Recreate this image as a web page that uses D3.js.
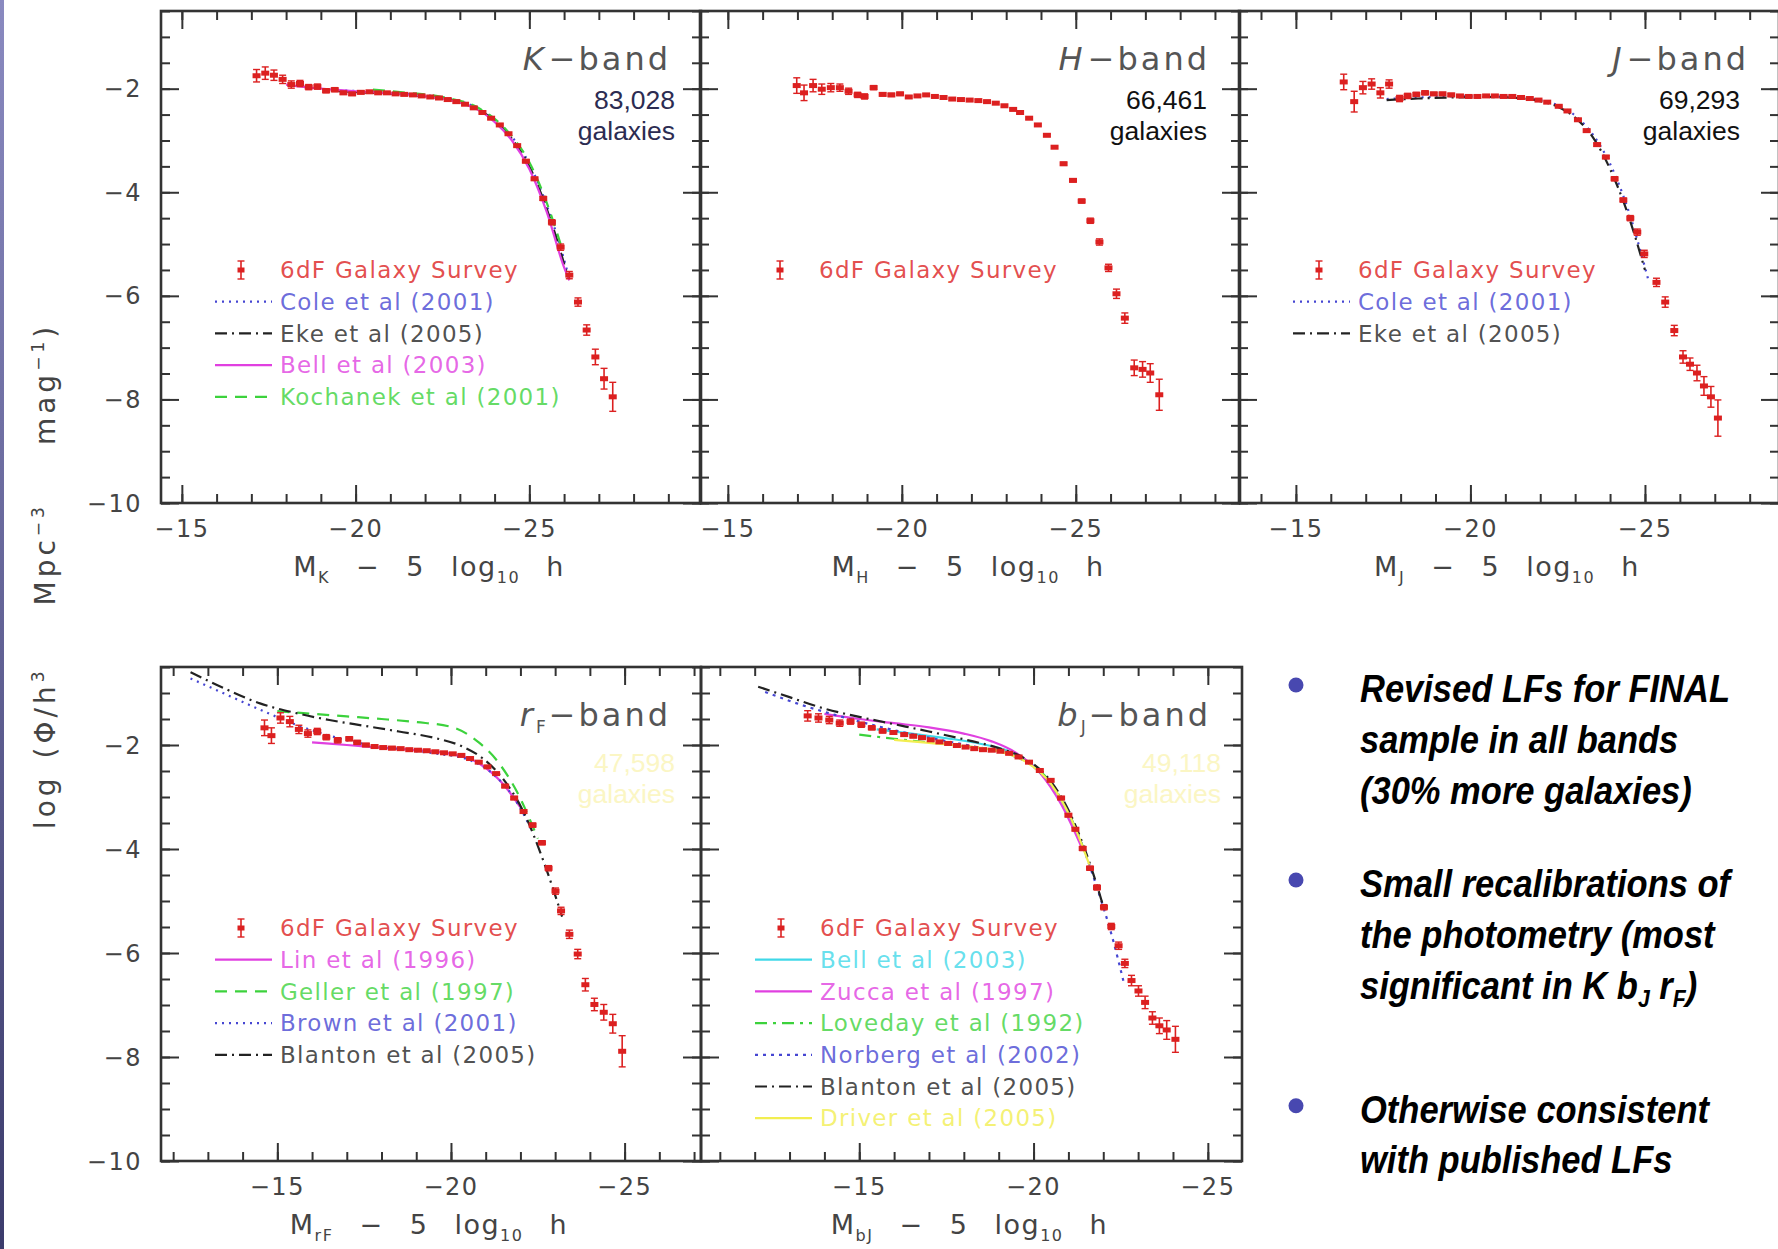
<!DOCTYPE html>
<html>
<head>
<meta charset="utf-8">
<script src="https://cdn.jsdelivr.net/npm/d3@7"></script>
<style>
  body { margin: 0; background: #fff; }
  svg { display: block; }
</style>
</head>
<body>
<svg id="chart" width="1778" height="1249"></svg>
<script>
// 6dF points: [M - 5log h, log phi, error]
var kband6df = [
  [-17.15,-1.75,0.12],[-17.40,-1.70,0.12],[-17.65,-1.74,0.10],[-17.90,-1.82,0.08],[-18.15,-1.92,0.07],
  [-18.40,-1.90,0.06],[-18.65,-1.97,0.05],[-18.90,-1.96,0.05],[-19.15,-2.04,0.04],[-19.40,-2.02,0.04],
  [-19.65,-2.08,0.03],[-19.90,-2.10,0.03],[-20.15,-2.07,0.03],[-20.40,-2.06,0.02],[-20.65,-2.08,0.02],
  [-20.90,-2.08,0.02],[-21.15,-2.10,0.02],[-21.40,-2.11,0.02],[-21.65,-2.12,0.02],[-21.90,-2.14,0.02],
  [-22.15,-2.16,0.02],[-22.40,-2.18,0.02],[-22.65,-2.21,0.02],[-22.90,-2.25,0.02],[-23.15,-2.30,0.02],
  [-23.40,-2.37,0.02],[-23.65,-2.46,0.02],[-23.90,-2.57,0.02],[-24.15,-2.70,0.02],[-24.40,-2.87,0.02],
  [-24.65,-3.10,0.02],[-24.90,-3.40,0.03],[-25.15,-3.74,0.03],[-25.40,-4.12,0.04],[-25.65,-4.58,0.05],
  [-25.90,-5.06,0.06],[-26.15,-5.60,0.07],[-26.40,-6.12,0.08],[-26.65,-6.66,0.10],[-26.90,-7.18,0.15],
  [-27.15,-7.60,0.20],[-27.40,-7.95,0.28]
];
var hband6df = [
  [-16.98,-1.94,0.15],[-17.19,-2.08,0.15],[-17.45,-1.94,0.12],[-17.70,-2.01,0.10],[-17.96,-1.98,0.08],
  [-18.22,-1.98,0.07],[-18.47,-2.05,0.06],[-18.73,-2.12,0.05],[-18.93,-2.15,0.05],[-19.19,-1.98,0.04],
  [-19.45,-2.11,0.03],[-19.70,-2.12,0.03],[-19.95,-2.10,0.03],[-20.20,-2.16,0.02],[-20.45,-2.14,0.02],
  [-20.70,-2.12,0.02],[-20.95,-2.15,0.02],[-21.20,-2.17,0.02],[-21.45,-2.20,0.02],[-21.70,-2.21,0.02],
  [-21.95,-2.22,0.02],[-22.20,-2.23,0.02],[-22.45,-2.25,0.02],[-22.70,-2.28,0.02],[-22.95,-2.33,0.02],
  [-23.20,-2.40,0.02],[-23.40,-2.46,0.02],[-23.66,-2.57,0.02],[-23.91,-2.70,0.02],[-24.17,-2.90,0.02],
  [-24.39,-3.13,0.02],[-24.65,-3.45,0.03],[-24.92,-3.77,0.03],[-25.17,-4.17,0.04],[-25.42,-4.55,0.05],
  [-25.68,-4.96,0.06],[-25.94,-5.46,0.07],[-26.17,-5.96,0.09],[-26.41,-6.43,0.10],[-26.68,-7.39,0.15],
  [-26.92,-7.42,0.15],[-27.14,-7.49,0.18],[-27.40,-7.91,0.30]
];
var jband6df = [
  [-16.37,-1.87,0.15],[-16.67,-2.25,0.20],[-16.92,-1.98,0.12],[-17.17,-1.91,0.10],[-17.42,-2.08,0.10],
  [-17.67,-1.91,0.08],[-17.97,-2.19,0.06],[-18.20,-2.14,0.05],[-18.45,-2.11,0.04],[-18.70,-2.08,0.04],
  [-18.95,-2.10,0.03],[-19.20,-2.10,0.03],[-19.45,-2.12,0.03],[-19.70,-2.14,0.02],[-19.95,-2.15,0.02],
  [-20.20,-2.15,0.02],[-20.45,-2.14,0.02],[-20.70,-2.14,0.02],[-20.95,-2.15,0.02],[-21.20,-2.15,0.02],
  [-21.45,-2.17,0.02],[-21.70,-2.19,0.02],[-21.95,-2.22,0.02],[-22.20,-2.26,0.02],[-22.53,-2.34,0.02],
  [-22.78,-2.43,0.02],[-23.08,-2.60,0.02],[-23.33,-2.81,0.02],[-23.63,-3.08,0.03],[-23.88,-3.32,0.03],
  [-24.13,-3.74,0.04],[-24.38,-4.15,0.04],[-24.58,-4.50,0.05],[-24.78,-4.77,0.06],[-24.98,-5.19,0.07],
  [-25.33,-5.74,0.08],[-25.58,-6.12,0.10],[-25.84,-6.67,0.10],[-26.09,-7.18,0.12],[-26.29,-7.32,0.12],
  [-26.49,-7.49,0.15],[-26.69,-7.74,0.18],[-26.89,-7.95,0.20],[-27.09,-8.36,0.35]
];
var rband6df = [
  [-14.63,-1.67,0.15],[-14.83,-1.82,0.15],[-15.09,-1.48,0.10],[-15.36,-1.55,0.10],[-15.62,-1.70,0.08],
  [-15.88,-1.78,0.07],[-16.15,-1.74,0.06],[-16.41,-1.85,0.05],[-16.74,-1.91,0.05],[-17.07,-1.88,0.04],
  [-17.30,-1.95,0.04],[-17.55,-2.00,0.03],[-17.80,-2.03,0.03],[-18.05,-2.05,0.03],[-18.30,-2.06,0.03],
  [-18.55,-2.07,0.02],[-18.80,-2.09,0.02],[-19.05,-2.10,0.02],[-19.30,-2.11,0.02],[-19.55,-2.13,0.02],
  [-19.80,-2.15,0.02],[-20.05,-2.17,0.02],[-20.30,-2.20,0.02],[-20.55,-2.26,0.02],[-20.80,-2.33,0.02],
  [-21.05,-2.42,0.02],[-21.30,-2.55,0.02],[-21.56,-2.79,0.03],[-21.82,-3.02,0.03],[-22.09,-3.28,0.03],
  [-22.35,-3.54,0.04],[-22.62,-3.88,0.04],[-22.81,-4.37,0.05],[-23.01,-4.81,0.06],[-23.17,-5.19,0.07],
  [-23.41,-5.64,0.08],[-23.65,-6.02,0.09],[-23.87,-6.61,0.12],[-24.13,-6.99,0.12],[-24.40,-7.14,0.15],
  [-24.66,-7.36,0.18],[-24.93,-7.89,0.30]
];
var bband6df = [
  [-13.52,-1.44,0.10],[-13.83,-1.48,0.08],[-14.14,-1.52,0.07],[-14.44,-1.58,0.06],[-14.75,-1.55,0.05],
  [-15.06,-1.61,0.05],[-15.36,-1.67,0.04],[-15.67,-1.73,0.04],[-15.98,-1.76,0.03],[-16.29,-1.80,0.03],
  [-16.55,-1.83,0.03],[-16.80,-1.86,0.03],[-17.05,-1.90,0.02],[-17.30,-1.94,0.02],[-17.55,-1.97,0.02],
  [-17.80,-2.01,0.02],[-18.05,-2.04,0.02],[-18.30,-2.07,0.02],[-18.55,-2.09,0.02],[-18.80,-2.10,0.02],
  [-19.05,-2.12,0.02],[-19.30,-2.16,0.02],[-19.57,-2.23,0.02],[-19.87,-2.33,0.02],[-20.18,-2.49,0.02],
  [-20.49,-2.68,0.02],[-20.79,-3.02,0.03],[-21.00,-3.35,0.03],[-21.20,-3.62,0.03],[-21.41,-3.99,0.04],
  [-21.62,-4.37,0.04],[-21.82,-4.74,0.05],[-22.02,-5.12,0.05],[-22.23,-5.49,0.06],[-22.44,-5.86,0.07],
  [-22.62,-6.20,0.08],[-22.81,-6.53,0.10],[-23.01,-6.73,0.10],[-23.20,-6.95,0.12],[-23.41,-7.25,0.12],
  [-23.61,-7.40,0.15],[-23.82,-7.48,0.18],[-24.07,-7.66,0.25]
];

// published LFs: [M - 5log h, log phi]
var kbandCole = [[-19.5,-2.03],[-20.5,-2.06],[-21.5,-2.10],[-22.5,-2.17],[-23.0,-2.24],[-23.5,-2.37],[-24.0,-2.60],[-24.5,-2.93],[-25.0,-3.45],[-25.5,-4.25],[-26.0,-5.30],[-26.1,-5.55]];
var kbandEke = [[-19.5,-2.05],[-20.5,-2.08],[-21.5,-2.12],[-22.5,-2.19],[-23.0,-2.26],[-23.5,-2.39],[-24.0,-2.62],[-24.5,-2.97],[-25.0,-3.50],[-25.5,-4.32],[-26.0,-5.38],[-26.1,-5.62]];
var kbandBell = [[-18.0,-1.92],[-19.0,-2.00],[-20.0,-2.05],[-21.0,-2.09],[-22.0,-2.15],[-23.0,-2.27],[-23.5,-2.40],[-24.0,-2.64],[-24.5,-3.00],[-25.0,-3.55],[-25.5,-4.38],[-26.0,-5.45],[-26.15,-5.70]];
var kbandKochanek = [[-20.5,-2.02],[-21.5,-2.08],[-22.5,-2.16],[-23.5,-2.36],[-24.0,-2.58],[-24.5,-2.92],[-25.0,-3.42],[-25.5,-4.20],[-25.9,-5.00]];

var jbandCole = [[-17.6,-2.20],[-18.5,-2.17],[-19.5,-2.15],[-20.5,-2.15],[-21.5,-2.18],[-22.0,-2.22],[-22.5,-2.32],[-23.0,-2.52],[-23.5,-2.88],[-24.0,-3.45],[-24.5,-4.30],[-25.0,-5.45],[-25.1,-5.70]];
var jbandEke = [[-17.6,-2.22],[-18.5,-2.19],[-19.5,-2.17],[-20.5,-2.16],[-21.5,-2.19],[-22.0,-2.24],[-22.5,-2.35],[-23.0,-2.56],[-23.5,-2.93],[-24.0,-3.55],[-24.5,-4.40],[-25.0,-5.50]];

var rbandLin = [[-16.0,-1.95],[-17.0,-2.00],[-18.0,-2.05],[-19.0,-2.10],[-20.0,-2.17],[-20.8,-2.35],[-21.5,-2.75],[-22.0,-3.20]];
var rbandGeller = [[-15.0,-1.35],[-16.0,-1.40],[-17.0,-1.45],[-18.0,-1.50],[-19.0,-1.56],[-20.0,-1.65],[-20.8,-1.95],[-21.3,-2.28],[-21.9,-2.90],[-22.5,-3.80]];
var rbandBrown = [[-12.5,-0.72],[-13.5,-1.02],[-14.5,-1.32],[-15.5,-1.60],[-16.5,-1.82],[-17.5,-1.98],[-18.5,-2.08],[-19.5,-2.16],[-20.5,-2.28],[-21.2,-2.55],[-21.8,-3.00],[-22.3,-3.60]];
var rbandBlanton = [[-12.5,-0.60],[-13.5,-0.92],[-14.5,-1.20],[-15.5,-1.38],[-16.5,-1.52],[-17.5,-1.63],[-18.5,-1.74],[-19.5,-1.86],[-20.3,-2.02],[-20.9,-2.25],[-21.5,-2.65],[-22.1,-3.30],[-22.7,-4.30],[-23.2,-5.30]];

var bbandBell = [[-15.5,-1.70],[-16.5,-1.78],[-17.5,-1.87],[-18.5,-1.98],[-19.3,-2.12],[-20.0,-2.40],[-20.6,-2.85],[-21.2,-3.60]];
var bbandZucca = [[-14.0,-1.40],[-15.0,-1.50],[-16.0,-1.58],[-17.0,-1.66],[-18.0,-1.78],[-18.8,-1.93],[-19.5,-2.15],[-20.2,-2.55],[-20.8,-3.15],[-21.4,-4.00]];
var bbandLoveday = [[-15.0,-1.80],[-16.0,-1.88],[-17.0,-1.95],[-18.0,-2.02],[-19.0,-2.12],[-19.8,-2.32],[-20.4,-2.65],[-21.0,-3.30],[-21.5,-4.10]];
var bbandNorberg = [[-12.3,-0.98],[-13.3,-1.22],[-14.3,-1.42],[-15.3,-1.60],[-16.3,-1.76],[-17.3,-1.90],[-18.3,-2.03],[-19.3,-2.18],[-20.0,-2.42],[-20.6,-2.85],[-21.2,-3.60],[-21.8,-4.70],[-22.3,-5.80],[-22.6,-6.60]];
var bbandBlanton = [[-12.1,-0.88],[-13.0,-1.08],[-14.0,-1.30],[-15.0,-1.46],[-16.0,-1.60],[-17.0,-1.74],[-18.0,-1.89],[-19.0,-2.06],[-19.8,-2.28],[-20.4,-2.62],[-21.0,-3.25],[-21.6,-4.25],[-22.0,-5.10]];
var bbandDriver = [[-16.0,-1.90],[-17.0,-1.96],[-18.0,-2.02],[-19.0,-2.12],[-19.8,-2.33],[-20.5,-2.75],[-21.1,-3.45],[-21.6,-4.30]];

var yTickLabels = [-2, -4, -6, -8, -10];
var xTickLabels = [-15, -20, -25];
var bullets = [
  ["Revised LFs for FINAL", "sample in all bands", "(30% more galaxies)"],
  ["Small recalibrations of", "the photometry (most", "significant in K b|J r|F)"],
  ["Otherwise consistent", "with published LFs"]
];

var svg = d3.select("#chart");
var plotFont = "'DejaVu Sans', Verdana, sans-serif";
var slideFont = "'Liberation Sans', Arial, sans-serif";
var ink = "#333";
var red = "#dc2020";

// slide edge
var grad = svg.append("defs").append("linearGradient").attr("id", "edge").attr("x1", 0).attr("x2", 0).attr("y1", 0).attr("y2", 1);
grad.append("stop").attr("offset", "0%").attr("stop-color", "#8a8ac0");
grad.append("stop").attr("offset", "100%").attr("stop-color", "#3c3c6c");
svg.append("rect").attr("x", 0).attr("y", 0).attr("width", 4).attr("height", 1249).attr("fill", "url(#edge)");

var panels = [
  {band: "K", sub: "", axisSub: "K", x: 161, y: 11, w: 540, h: 492, xdom: [-14.4, -29.94], yLabels: true,
   data: kband6df, count: "83,028", countColor: "#2c2c52", countX: 514, countY: 98,
   lines: [
     {data: kbandCole, label: "Cole et al (2001)", color: "#4646d2", dash: "2,5"},
     {data: kbandEke, label: "Eke et al (2005)", color: "#222", dash: "12,5,2,5"},
     {data: kbandBell, label: "Bell et al (2003)", color: "#e040e0"},
     {data: kbandKochanek, label: "Kochanek et al (2001)", color: "#3cd23c", dash: "12,8"}
   ]},
  {band: "H", sub: "", axisSub: "H", x: 700, y: 11, w: 540, h: 492, xdom: [-14.2, -29.72],
   data: hband6df, count: "66,461", countColor: "#111", countX: 507, countY: 98, lines: []},
  {band: "J", sub: "", axisSub: "J", x: 1239, y: 11, w: 540, h: 492, xdom: [-13.37, -28.84],
   data: jband6df, count: "69,293", countColor: "#111", countX: 501, countY: 98,
   lines: [
     {data: jbandCole, label: "Cole et al (2001)", color: "#4646d2", dash: "2,5"},
     {data: jbandEke, label: "Eke et al (2005)", color: "#222", dash: "12,5,2,5"}
   ]},
  {band: "r", sub: "F", axisSub: "rF", x: 161, y: 667, w: 540, h: 494, xdom: [-11.65, -27.2], yLabels: true,
   data: rband6df, count: "47,598", countColor: "#fbf6c4", countX: 514, countY: 105,
   lines: [
     {data: rbandLin, label: "Lin et al (1996)", color: "#e040e0"},
     {data: rbandGeller, label: "Geller et al (1997)", color: "#3cd23c", dash: "12,8"},
     {data: rbandBrown, label: "Brown et al (2001)", color: "#4646d2", dash: "2,5"},
     {data: rbandBlanton, label: "Blanton et al (2005)", color: "#222", dash: "12,5,2,5"}
   ]},
  {band: "b", sub: "J", axisSub: "bJ", x: 701, y: 667, w: 541, h: 494, xdom: [-10.46, -25.98],
   data: bband6df, count: "49,118", countColor: "#fbf6c4", countX: 520, countY: 105,
   lines: [
     {data: bbandBell, label: "Bell et al (2003)", color: "#40d8e8"},
     {data: bbandZucca, label: "Zucca et al (1997)", color: "#e040e0"},
     {data: bbandLoveday, label: "Loveday et al (1992)", color: "#3cd23c", dash: "12,6,3,6"},
     {data: bbandNorberg, label: "Norberg et al (2002)", color: "#4646d2", dash: "3,5"},
     {data: bbandBlanton, label: "Blanton et al (2005)", color: "#222", dash: "12,5,2,5"},
     {data: bbandDriver, label: "Driver et al (2005)", color: "#f2ee50"}
   ]}
];

panels.forEach(drawPanel);

function drawPanel(p, i) {
  var x = d3.scaleLinear().domain(p.xdom).range([0, p.w]);
  var y = d3.scaleLinear().domain([-10, -0.5]).range([p.h, 0]);
  var g = svg.append("g").attr("transform", "translate(" + p.x + "," + p.y + ")");

  g.append("clipPath").attr("id", "clip" + i)
    .append("rect").attr("width", p.w).attr("height", p.h);
  var plot = g.append("g").attr("clip-path", "url(#clip" + i + ")");

  // published curves under the points
  var line = d3.line().x(function(d) { return x(d[0]); }).y(function(d) { return y(d[1]); })
    .curve(d3.curveMonotoneX);
  p.lines.forEach(function(s) {
    plot.append("path").datum(s.data)
      .attr("d", line)
      .attr("fill", "none")
      .attr("stroke", s.color)
      .attr("stroke-width", 2.2)
      .attr("stroke-dasharray", s.dash || null);
  });

  // 6dF points with error bars
  var pts = plot.append("g").selectAll("g").data(p.data).join("g");
  pts.append("line")
    .attr("x1", function(d) { return x(d[0]); }).attr("x2", function(d) { return x(d[0]); })
    .attr("y1", function(d) { return y(d[1] - d[2]); }).attr("y2", function(d) { return y(d[1] + d[2]); })
    .attr("stroke", red).attr("stroke-width", 1.6);
  [-1, 1].forEach(function(sgn) {
    pts.append("line")
      .attr("x1", function(d) { return x(d[0]) - 3.5; }).attr("x2", function(d) { return x(d[0]) + 3.5; })
      .attr("y1", function(d) { return y(d[1] + sgn * d[2]); }).attr("y2", function(d) { return y(d[1] + sgn * d[2]); })
      .attr("stroke", red).attr("stroke-width", 1.4);
  });
  pts.append("rect")
    .attr("x", function(d) { return x(d[0]) - 4; })
    .attr("y", function(d) { return y(d[1]) - 2.5; })
    .attr("width", 8).attr("height", 5)
    .attr("fill", red);

  // inward ticks on all four sides
  var xMinor = d3.range(-11, -30, -1).filter(function(v) { return v <= p.xdom[0] && v >= p.xdom[1]; });
  var xMajor = xMinor.filter(function(v) { return v % 5 === 0; });
  var yMinor = d3.range(-10, -0.49, 0.5);
  var yMajor = yMinor.filter(function(v) { return v % 2 === 0; });
  function ticks(axis, values, size, tx, ty) {
    var a = g.append("g").attr("transform", "translate(" + tx + "," + ty + ")")
      .call(axis.tickValues(values).tickSize(-size).tickFormat(""));
    a.select(".domain").remove();
    a.selectAll(".tick line").attr("stroke", ink).attr("stroke-width", 2);
  }
  ticks(d3.axisBottom(x), xMinor, 9, 0, p.h);
  ticks(d3.axisBottom(x), xMajor, 18, 0, p.h);
  ticks(d3.axisTop(x), xMinor, 9, 0, 0);
  ticks(d3.axisTop(x), xMajor, 18, 0, 0);
  ticks(d3.axisLeft(y), yMinor, 9, 0, 0);
  ticks(d3.axisLeft(y), yMajor, 18, 0, 0);
  ticks(d3.axisRight(y), yMinor, 9, p.w, 0);
  ticks(d3.axisRight(y), yMajor, 18, p.w, 0);

  g.append("rect").attr("width", p.w).attr("height", p.h)
    .attr("fill", "none").attr("stroke", ink).attr("stroke-width", 2.6);

  // tick labels
  g.selectAll(".xl").data(xTickLabels).join("text")
    .attr("x", function(d) { return x(d); }).attr("y", p.h + 34)
    .attr("text-anchor", "middle")
    .attr("font-family", plotFont).attr("font-size", 24).attr("letter-spacing", 1.5)
    .attr("fill", "#444")
    .text(function(d) { return "\u2212" + Math.abs(d); });
  if (p.yLabels) {
    g.selectAll(".yl").data(yTickLabels).join("text")
      .attr("x", -19).attr("y", function(d) { return y(d); }).attr("dy", "0.36em")
      .attr("text-anchor", "end")
      .attr("font-family", plotFont).attr("font-size", 24).attr("letter-spacing", 1.5)
      .attr("fill", "#444")
      .text(function(d) { return "\u2212" + Math.abs(d); });
  }

  // x axis title
  var xt = g.append("text")
    .attr("x", p.w / 2 - 2).attr("y", p.h + 73)
    .attr("text-anchor", "middle")
    .attr("font-family", plotFont).attr("font-size", 27).attr("letter-spacing", 1.5)
    .attr("word-spacing", 16).attr("fill", "#444");
  xt.append("tspan").text("M");
  xt.append("tspan").attr("font-size", 16).attr("dy", 7).text(p.axisSub);
  xt.append("tspan").attr("dy", -7).text(" \u2212 5 log");
  xt.append("tspan").attr("font-size", 16).attr("dy", 7).text("10");
  xt.append("tspan").attr("dy", -7).text(" h");

  // band label
  var bl = g.append("text")
    .attr("x", 510).attr("y", 59)
    .attr("text-anchor", "end")
    .attr("font-family", plotFont).attr("font-size", 32).attr("letter-spacing", 3)
    .attr("fill", "#555");
  bl.append("tspan").attr("font-style", "italic").text(p.band);
  if (p.sub) {
    bl.append("tspan").attr("font-size", 17).attr("dy", 7).text(p.sub);
    bl.append("tspan").attr("dy", -7).text("\u2212band");
  } else {
    bl.append("tspan").attr("dx", 2).text("\u2212band");
  }

  // galaxy count
  g.append("text").attr("x", p.countX).attr("y", p.countY)
    .attr("text-anchor", "end").attr("font-family", slideFont).attr("font-size", 26.5)
    .attr("fill", p.countColor).text(p.count);
  g.append("text").attr("x", p.countX).attr("y", p.countY + 31)
    .attr("text-anchor", "end").attr("font-family", slideFont).attr("font-size", 26.5)
    .attr("fill", p.countColor).text("galaxies");

  // legend
  var lg = g.append("g").attr("transform", "translate(0," + (p.y > 100 ? 261 : 259) + ")");
  var rows = [{label: "6dF Galaxy Survey", color: red, err: true}].concat(p.lines);
  rows.forEach(function(r, k) {
    var ry = k * 31.7;
    if (r.err) {
      lg.append("line").attr("x1", 80).attr("x2", 80).attr("y1", ry - 9).attr("y2", ry + 9)
        .attr("stroke", red).attr("stroke-width", 1.6);
      [-9, 9].forEach(function(c) {
        lg.append("line").attr("x1", 76.5).attr("x2", 83.5).attr("y1", ry + c).attr("y2", ry + c)
          .attr("stroke", red).attr("stroke-width", 1.4);
      });
      lg.append("rect").attr("x", 76.5).attr("y", ry - 2.5).attr("width", 7).attr("height", 5).attr("fill", red);
    } else {
      lg.append("line").attr("x1", 54).attr("x2", 111).attr("y1", ry).attr("y2", ry)
        .attr("stroke", r.color).attr("stroke-width", 2.2).attr("stroke-dasharray", r.dash || null);
    }
    lg.append("text").attr("x", 119).attr("y", ry).attr("dy", "0.36em")
      .attr("font-family", plotFont).attr("font-size", 23).attr("letter-spacing", 1.3)
      .attr("fill", r.color).attr("fill-opacity", 0.8)
      .text(r.label);
  });
}

// shared y axis title
var yt = svg.append("text")
  .attr("transform", "translate(55,576) rotate(-90)")
  .attr("text-anchor", "middle")
  .attr("font-family", plotFont).attr("font-size", 28).attr("letter-spacing", 4)
  .attr("fill", "#444");
yt.append("tspan").text("log");
yt.append("tspan").attr("dx", 16).text("(\u03A6/h");
yt.append("tspan").attr("font-size", 17).attr("dy", -11).text("3");
yt.append("tspan").attr("dy", 11).attr("dx", 62).text("Mpc");
yt.append("tspan").attr("font-size", 17).attr("dy", -11).text("\u22123");
yt.append("tspan").attr("dy", 11).attr("dx", 58).text("mag");
yt.append("tspan").attr("font-size", 17).attr("dy", -11).text("\u22121");
yt.append("tspan").attr("dy", 11).text(")");

// bullet points
var lineTops = [702, 897, 1122.7];
var sx = 0.885;
var bg = svg.append("g").attr("transform", "scale(" + sx + ",1)");
bullets.forEach(function(group, gi) {
  svg.append("circle").attr("cx", 1296).attr("cy", lineTops[gi] - 17).attr("r", 7.5).attr("fill", "#4848b0");
  group.forEach(function(txt, li) {
    var t = bg.append("text")
      .attr("x", 1360 / sx).attr("y", lineTops[gi] + li * 50.8)
      .attr("font-family", slideFont).attr("font-size", 39)
      .attr("font-weight", "bold").attr("font-style", "italic").attr("fill", "#000");
    txt.split("|").forEach(function(part, pi) {
      if (pi === 0) { t.append("tspan").text(part); return; }
      t.append("tspan").attr("font-size", 24).attr("dy", 8).text(part.charAt(0));
      t.append("tspan").attr("dy", -8).text(part.slice(1));
    });
  });
});
</script>
</body>
</html>
